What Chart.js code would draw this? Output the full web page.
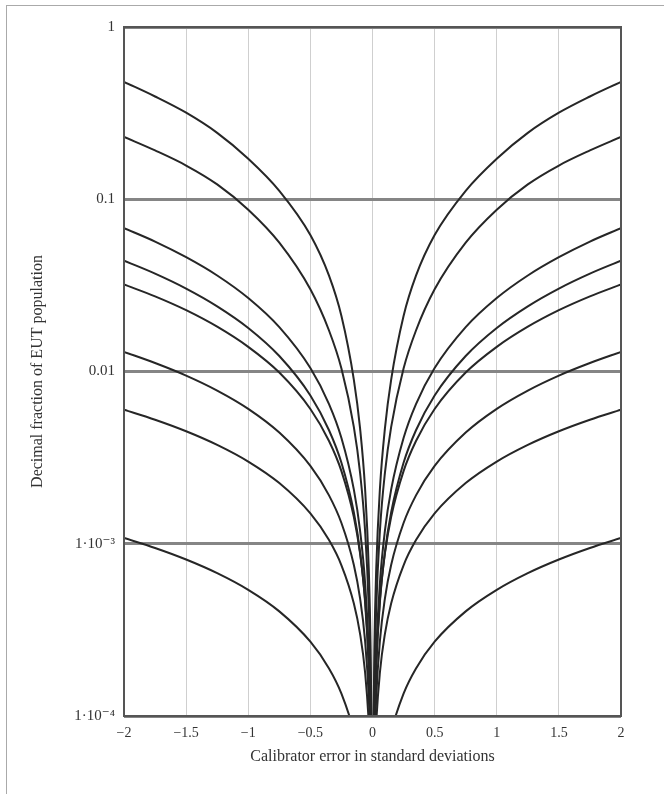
<!DOCTYPE html>
<html>
<head>
<meta charset="utf-8">
<script src="https://cdn.jsdelivr.net/npm/chart.js@4.4.1/dist/chart.umd.min.js"></script>
<style>
  html, body { margin: 0; padding: 0; background: #fff; }
  #wrap { position: relative; width: 664px; height: 794px; }
  #frame { position: absolute; left: 6px; top: 5px; width: 700px; height: 820px;
           border-left: 1px solid #aaa; border-top: 1px solid #aaa; }
  canvas { position: absolute; left: 0; top: 0; }
</style>
</head>
<body>
<div id="wrap">
  <div id="frame"></div>
  <canvas id="chart" width="664" height="794"></canvas>
</div>
<script>
// calibrator error (std devs), left half, read from x = -2 toward 0
const errHalf = [2, 1.75, 1.5, 1.25, 1, 0.75, 0.5, 0.35, 0.25, 0.15, 0.1, 0.06, 0.03, 0.015, 0.006];

// fraction of EUT population, one array per curve (same order as errHalf)
const curve1 = [0.48, 0.395, 0.318, 0.243, 0.172, 0.112, 0.062, 0.036, 0.021, 0.00895, 0.00468, 0.0021, 0.000715, 0.000244, 0.000059];
const curve2 = [0.23, 0.192, 0.157, 0.122, 0.087, 0.056, 0.030, 0.0173, 0.0104, 0.00475, 0.00258, 0.0012, 0.000423, 0.000149, 0.0000377];
const curve3 = [0.068, 0.0568, 0.0461, 0.0361, 0.0267, 0.0181, 0.01047, 0.00647, 0.00411, 0.00206, 0.00119, 0.000598, 0.000235, 0.000092, 0.0000267];
const curve4 = [0.044, 0.037, 0.0303, 0.0239, 0.0179, 0.0123, 0.00726, 0.00456, 0.00295, 0.00152, 0.000895, 0.000461, 0.000187, 0.000076, 0.0000231];
const curve5 = [0.032, 0.0273, 0.0227, 0.0182, 0.0139, 0.00986, 0.00606, 0.00395, 0.00264, 0.00143, 0.000879, 0.000476, 0.000207, 0.0000901, 0.00003];
const curve6 = [0.013, 0.0112, 0.00947, 0.00775, 0.00607, 0.00442, 0.00283, 0.00191, 0.00132, 0.000753, 0.000482, 0.000275, 0.000128, 0.0000598, 0.0000218];
const curve7 = [0.006, 0.00525, 0.0045, 0.00375, 0.003, 0.00225, 0.0015, 0.00105, 0.00075, 0.00045, 0.0003, 0.00018, 0.00009, 0.000045, 0.000018];
const curve8 = [0.00108, 0.000945, 0.00081, 0.000675, 0.00054, 0.000405, 0.00027, 0.000189, 0.000135, 0.000081, 0.000054, 0.000032, 0.000016, 0.000008, 0.000003];

const curves = [curve1, curve2, curve3, curve4, curve5, curve6, curve7, curve8];

const xTicks = [-2, -1.5, -1, -0.5, 0, 0.5, 1, 1.5, 2];
const yDecades = [1e-4, 1e-3, 0.01, 0.1, 1];
const yLabels = ['1\u00b710\u207b\u2074', '1\u00b710\u207b\u00b3', '0.01', '0.1', '1'];

function buildPoints(vals) {
  let pts = [];
  for (let i = 0; i < errHalf.length; i++) pts.push({ x: -errHalf[i], y: vals[i] });
  pts.push({ x: 0, y: null });
  for (let i = errHalf.length - 1; i >= 0; i--) pts.push({ x: errHalf[i], y: vals[i] });
  return pts;
}

function isDecade(v) {
  let l = Math.log10(v);
  return Math.abs(l - Math.round(l)) < 1e-6;
}

const frameBox = {
  id: 'frameBox',
  afterDatasetsDraw(chart) {
    const a = chart.chartArea;
    const ctx = chart.ctx;
    ctx.save();
    ctx.strokeStyle = '#555';
    ctx.lineWidth = 2;
    ctx.strokeRect(a.left, a.top, a.right - a.left, a.bottom - a.top);
    ctx.restore();
  }
};

const serif = "'Liberation Serif', 'DejaVu Serif', serif";

new Chart(document.getElementById('chart'), {
  type: 'scatter',
  data: {
    datasets: curves.map(c => ({
      data: buildPoints(c),
      showLine: true,
      borderColor: '#262626',
      borderWidth: 2,
      pointRadius: 0,
      cubicInterpolationMode: 'monotone',
      spanGaps: false
    }))
  },
  options: {
    responsive: false,
    animation: false,
    layout: { padding: { left: 28, right: 43, top: 27, bottom: 28 } },
    plugins: { legend: { display: false }, tooltip: { enabled: false } },
    scales: {
      x: {
        type: 'linear',
        min: -2,
        max: 2,
        afterBuildTicks: s => { s.ticks = xTicks.map(v => ({ value: v })); },
        afterFit: s => { s.height = 50; },
        ticks: {
          color: '#333',
          padding: 9,
          font: { family: serif, size: 14 },
          callback: v => (v < 0 ? '\u2212' + Math.abs(v) : String(v))
        },
        grid: { color: '#cfcfcf', lineWidth: 1, drawTicks: false },
        border: { display: false },
        title: {
          display: true,
          text: 'Calibrator error in standard deviations',
          color: '#333',
          font: { family: serif, size: 16 },
          padding: { top: 2, bottom: 0 }
        }
      },
      y: {
        type: 'logarithmic',
        min: 1e-4,
        max: 1,
        afterBuildTicks: s => {
          let t = [];
          for (let d = 0; d < 4; d++) {
            for (let m = 1; m < 10; m++) t.push({ value: m * yDecades[d] });
          }
          t.push({ value: 1 });
          s.ticks = t;
        },
        afterFit: s => { s.width = 96; },
        ticks: {
          color: '#333',
          padding: 9,
          autoSkip: false,
          font: { family: serif, size: 15 },
          callback: v => {
            let i = yDecades.findIndex(d => Math.abs(d - v) / d < 1e-6);
            return i >= 0 ? yLabels[i] : null;
          }
        },
        grid: {
          drawTicks: false,
          color: ctx => (ctx.tick && isDecade(ctx.tick.value) ? '#858585' : '#dcdcd4'),
          lineWidth: ctx => (ctx.tick && isDecade(ctx.tick.value) ? 3 : 1)
        },
        border: { display: false },
        title: {
          display: true,
          text: 'Decimal fraction of EUT population',
          color: '#333',
          font: { family: serif, size: 16 },
          padding: { top: 0, bottom: 4 }
        }
      }
    }
  },
  plugins: [frameBox]
});
</script>
</body>
</html>
